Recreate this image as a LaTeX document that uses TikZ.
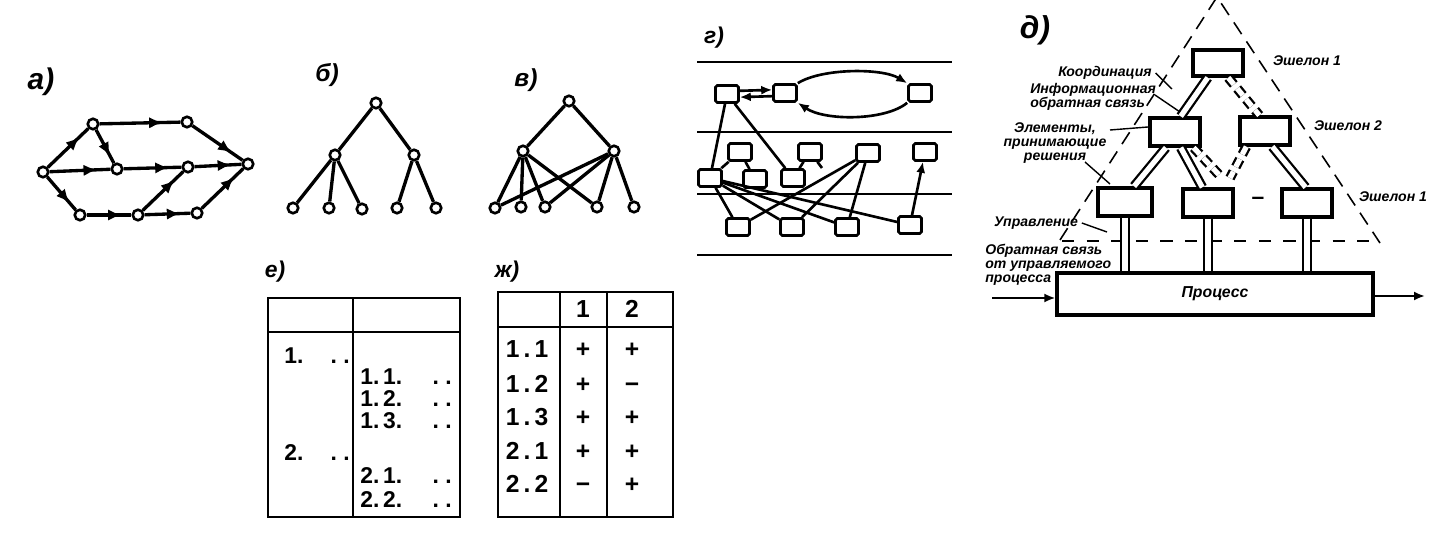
\documentclass[tikz,border=0pt]{standalone}
\usepackage{fontspec}
\setmainfont{Liberation Sans}
\usepackage{tikz}
\usetikzlibrary{positioning,arrows.meta,decorations.markings}

\tikzset{
  vtx/.style={circle, draw, fill=white, line width=1.5pt, inner sep=0pt, minimum size=2.1mm},
  link/.style={line width=1.9pt},
  gline/.style={line width=1.5pt},
  midarrow/.style={link, postaction={decorate},
    decoration={markings, mark=at position 0.78 with {\arrow{Latex[length=2.7mm,width=2.3mm]}}}},
  blk/.style={draw, fill=white, line width=1.5pt, rounded corners=1pt, inner sep=0pt,
    minimum width=4.6mm, minimum height=3.4mm},
  lvlbox/.style={draw, fill=white, line width=1.9pt, inner sep=0pt,
    minimum width=1cm, minimum height=5.6mm},
  dbl/.style={line width=1.3pt, double, double distance=3pt},
  dbldash/.style={dbl, dash pattern=on 5pt off 3pt},
  leader/.style={line width=0.8pt},
  panel/.style={font=\fontsize{#1}{#1}\selectfont\itshape\bfseries, inner sep=0pt},
  remark/.style={font=\fontsize{8}{7.8}\selectfont\itshape\bfseries, inner sep=0pt},
  cell/.style={font=\fontsize{#1}{#1}\selectfont\bfseries, inner sep=0pt},
}

\begin{document}
\begin{tikzpicture}[x=0.02cm, y=-0.02cm, >={Latex[length=2.2mm,width=1.8mm]}]
\useasboundingbox (0,0) rectangle (1448,536);

% a) network with directed arcs
\node[panel=17] (la) at (41,82) {а)};
\foreach \n/\x/\y in {a1/43/172, a2/93/124, a3/187/122, a4/117/169, a5/188/167,
                      a6/248/164, a7/80/215, a8/138/215, a9/197/213}
  \node[vtx] (\n) at (\x,\y) {};
\foreach \s/\t in {a1/a2, a2/a3, a2/a4, a1/a4, a4/a5, a5/a6, a3/a6,
                   a1/a7, a7/a8, a8/a9, a8/a5, a9/a6}
  \draw[midarrow] (\s) -- (\t);

% b) tree
\node[panel=14] (lb) at (327,75) {б)};
\foreach \n/\x/\y in {b0/376/103, b1/335/155, b2/414/155, b3/293/208,
                      b4/329/208, b5/362/209, b6/397/208, b7/436/208}
  \node[vtx] (\n) at (\x,\y) {};
\foreach \s/\t in {b0/b1, b0/b2, b1/b3, b1/b4, b1/b5, b2/b6, b2/b7}
  \draw[link] (\s) -- (\t);

% c) tree with shared leaves
\node[panel=14] (lc) at (526,80) {в)};
\foreach \n/\x/\y in {c0/569/101, c1/523/151, c2/614/151, c3/495/208,
                      c4/521/207, c5/545/207, c6/597/207, c7/634/207}
  \node[vtx] (\n) at (\x,\y) {};
\foreach \s/\t in {c0/c1, c0/c2, c1/c3, c1/c4, c1/c5, c1/c6,
                   c2/c3, c2/c5, c2/c6, c2/c7}
  \draw[link] (\s) -- (\t);

% g) layers
\node[panel=13] (lg) at (714,38) {г)};
\foreach \y in {62,132,194,255}
  \draw[gline] (697,\y) -- (952,\y);
\foreach \n/\x/\y in {d1/727/94, d2/785/93, d3/920/93,
                      e1/740/152, e2/810/152, e3/868/153, e4/925/152,
                      f1/710/178, f2/755/179, f3/793/178,
                      g1/738/227, g2/792/227, g3/847/227, g4/910/225}
  \node[blk] (\n) at (\x,\y) {};
\draw[gline, ->] ([yshift=1.8pt]d1.east) -- ([yshift=1.8pt]d2.west);
\draw[gline, ->] ([yshift=-1.8pt]d2.west) -- ([yshift=-1.8pt]d1.east);
\draw[gline, ->] (d2.north east) .. controls (822,68) and (882,68) .. (d3.north west);
\draw[gline, ->] (d3.south west) .. controls (885,121) and (825,121) .. (d2.south east);
\coordinate (e2s) at (822,168);
\draw[gline] (d1) -- (f1);
\draw[gline] (d1) -- (f3);
\draw[gline] (e1) -- (f1);
\draw[gline] (e1) -- (f2);
\draw[gline] (e2) -- (f3);
\draw[gline] (e2) -- (e2s);
\foreach \t in {g1,g2,g3}
  \draw[gline] (e3) -- (\t);
\foreach \t in {g1,g2,g3,g4}
  \draw[gline] (f1) -- (\t);
\draw[gline, ->] (g4) -- (e4);

% d) multilevel hierarchy
\node[panel=18] (ld) at (1035,30) {д)};
\draw[line width=0.9pt, dash pattern=on 8pt off 5pt] (1060,240) -- (1217,-3) -- (1380,243);
\draw[line width=0.9pt, dash pattern=on 7pt off 7pt] (1062,241) -- (1378,241);
\node[lvlbox, minimum height=5.2mm] (h0) at (1218,63) {};
\node[lvlbox] (h1) at (1175,132) {};
\node[lvlbox] (h2) at (1265,131) {};
\node[lvlbox, minimum width=1.08cm] (k1) at (1125,202) {};
\node[lvlbox] (k2) at (1208,203) {};
\node[lvlbox] (k3) at (1307,203) {};
\node[font=\fontsize{13}{13}\selectfont\bfseries, inner sep=0pt] (kgap) at (1258,201) {–};
\node[lvlbox, minimum width=6.32cm, minimum height=8.4mm,
      font=\fontsize{9}{10}\selectfont\itshape\bfseries] (proc) at (1215,294) {Процесс};
\coordinate (m1) at (1222,178);
\coordinate (m2) at (1230,178);
\draw[dbl] (h0.235) -- (h1.70);
\draw[dbldash] (h0.305) -- (h2.110);
\draw[dbl] (h1.240) -- (k1.60);
\draw[dbl] (h1.290) -- (k2.110);
\draw[dbldash] (h1.320) -- (m1);
\draw[dbldash] (h2.220) -- (m2);
\draw[dbl] (h2.295) -- (k3.95);
\foreach \k in {k1,k2,k3}
  \draw[dbl] (\k.south) -- (\k.south |- proc.north);
\coordinate (pin) at (992,298);
\coordinate (pout) at (1425,296);
\draw[line width=1.2pt, ->] (pin) -- (proc.west |- pin);
\draw[line width=1.2pt, ->] (proc.east |- pout) -- (pout);

% labels and leaders
\node[remark, anchor=east] (coord) at (1152,73) {Координация};
\node[remark, anchor=west, align=left] (info) at (1030,97) {Информационная\\обратная связь};
\node[remark, align=center] (elem) at (1055,143) {Элементы,\\принимающие\\решения};
\node[remark] (ctrl) at (1036,223) {Управление};
\node[remark, anchor=west, align=left] (fdbk) at (985,265) {Обратная связь\\от управляемого\\процесса};
\coordinate (coordend) at (1172,89);
\coordinate (infoend) at (1180,112);
\coordinate (elemend1) at (1148,127);
\coordinate (elemend2) at (1110,184);
\coordinate (ctrlend) at (1107,232);
\draw[leader] ([xshift=2pt]coord.east) -- (coordend);
\draw[leader] (1155,95) -- (infoend);
\draw[leader] (1110,130) -- (elemend1);
\draw[leader] (1085,162) -- (elemend2);
\draw[leader] ([xshift=2pt]ctrl.east) -- (ctrlend);
\node[remark] (ech1) at (1307,61) {Эшелон 1};
\node[remark] (ech2) at (1348,126) {Эшелон 2};
\node[remark] (ech3) at (1393,197) {Эшелон 1};

% e) two-level list
\node[panel=13] (le) at (275,272) {е)};
\draw[line width=1.6pt] (268,298) rectangle (460,517);
\draw[line width=1.6pt] (268,332) -- (460,332) (353,298) -- (353,517);
\foreach \t/\y in {1./364, 2./461}{
  \node[cell=13, anchor=base west] (el\y) at (284,\y) {\t};
  \node[cell=13, anchor=base east] (ed\y) at (350,\y) {.\ .};
}
\foreach \t/\y in {1.\,1./385, 1.\,2./407, 1.\,3./429, 2.\,1./484, 2.\,2./508}{
  \node[cell=13, anchor=base west] (er\y) at (360,\y) {\t};
  \node[cell=13, anchor=base east] (es\y) at (452,\y) {.\ .};
}

% zh) incidence table
\node[panel=13] (lz) at (507,272) {ж)};
\draw[line width=1.6pt] (498,292) rectangle (673,517);
\draw[line width=1.6pt] (498,327) -- (673,327) (560,292) -- (560,517) (607,292) -- (607,517);
\node[cell=14, anchor=base] (z1) at (583,318) {1};
\node[cell=14, anchor=base] (z2) at (632,318) {2};
\foreach \r/\p/\q/\y in {1\,.\,1/+/+/358, 1\,.\,2/+/−/393, 1\,.\,3/+/+/426,
                         2\,.\,1/+/+/460, 2\,.\,2/−/+/493}{
  \node[cell=14, anchor=base] (zr\y) at (527,\y) {\r};
  \node[cell=14, anchor=base] (zp\y) at (583,\y) {\p};
  \node[cell=14, anchor=base] (zq\y) at (632,\y) {\q};
}
\end{tikzpicture}
\end{document}
